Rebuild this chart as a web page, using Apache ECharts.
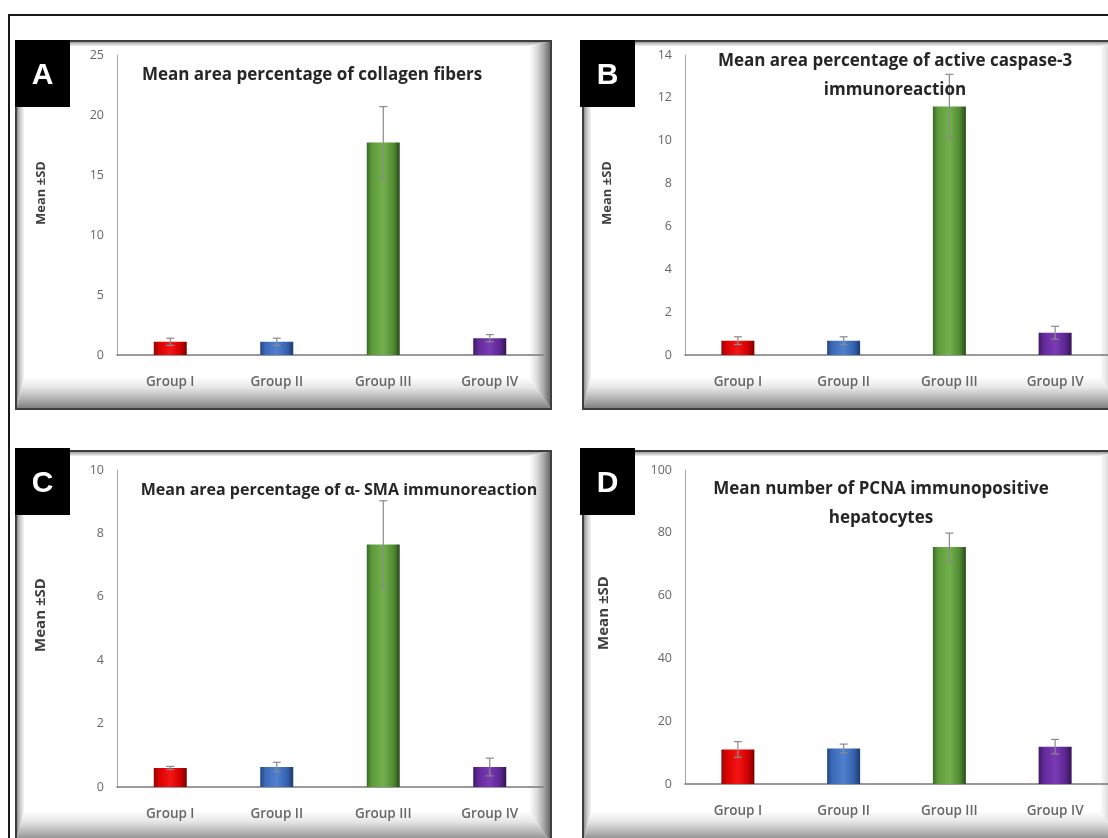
<!DOCTYPE html>
<html>
<head>
<meta charset="utf-8">
<script src="https://cdn.jsdelivr.net/npm/echarts@6/dist/echarts.min.js"></script>
<style>
html,body{margin:0;padding:0;background:#fff;}
#chart{width:1108px;height:838px;}
</style>
</head>
<body>
<div id="chart"></div>
<script>
// ---- data ----
const categories = ['Group I', 'Group II', 'Group III', 'Group IV'];

const meansA = [1.1, 1.1, 17.7, 1.4];
const sdA    = [0.3, 0.3, 3.0, 0.3];
const meansB = [0.67, 0.67, 11.6, 1.04];
const sdB    = [0.18, 0.18, 1.5, 0.3];
const meansC = [0.6, 0.63, 7.65, 0.63];
const sdC    = [0.05, 0.15, 1.38, 0.28];
const meansD = [11.0, 11.3, 75.5, 11.9];
const sdD    = [2.5, 1.4, 4.4, 2.3];

const titleA = 'Mean area percentage of collagen fibers';
const titleB = 'Mean area percentage of active caspase-3\nimmunoreaction';
const titleC = 'Mean area percentage of α- SMA immunoreaction';
const titleD = 'Mean number of PCNA immunopositive\nhepatocytes';
const yName = 'Mean ±SD';
const panelLetters = ['A', 'B', 'C', 'D'];

const yMaxA = 25, yStepA = 5;
const yMaxB = 14, yStepB = 2;
const yMaxC = 10, yStepC = 2;
const yMaxD = 100, yStepD = 20;

// ---- styling ----
const barGrad = [
  ['#8c0a0a', '#d80000', '#f51515', '#cc0000', '#7a0000'],
  ['#24467e', '#3b69b8', '#4f80cf', '#3461ad', '#1d3a6c'],
  ['#3b6a25', '#5c9a3b', '#73b04d', '#4f8a31', '#27491a'],
  ['#3c1a62', '#64299a', '#7a3bb5', '#5b2590', '#33154f']
];
function grad(c) {
  return {type: 'linear', x: 0, y: 0, x2: 1, y2: 0, colorStops: [
    {offset: 0, color: c[0]}, {offset: 0.15, color: c[1]},
    {offset: 0.5, color: c[2]}, {offset: 0.82, color: c[3]}, {offset: 1, color: c[4]}]};
}

const grids = [
  {left: 117, top: 55, width: 426, height: 300},
  {left: 685, top: 55, width: 430, height: 300},
  {left: 117, top: 470, width: 426, height: 317},
  {left: 685, top: 470, width: 430, height: 314}
];
const ymax = [yMaxA, yMaxB, yMaxC, yMaxD];
const ystep = [yStepA, yStepB, yStepC, yStepD];
const means = [meansA, meansB, meansC, meansD];
const sds = [sdA, sdB, sdC, sdD];

const xAxis = [], yAxis = [], series = [];
for (let i = 0; i < 4; i++) {
  xAxis.push({
    type: 'category', gridIndex: i, data: categories, z: 10,
    axisLine: {lineStyle: {color: '#7a7a7a', width: 1.5}},
    axisTick: {show: false},
    axisLabel: {color: '#666666', fontFamily: 'Open Sans', fontWeight: 600, fontSize: 13.5, margin: 20}
  });
  yAxis.push({
    type: 'value', gridIndex: i, min: 0, max: ymax[i], interval: ystep[i], z: 10,
    axisLine: {show: true, lineStyle: {color: '#a6a6a6', width: 1}},
    axisTick: {show: false},
    splitLine: {show: false},
    axisLabel: {color: '#666666', fontFamily: 'Open Sans', fontSize: 12.5, margin: 13}
  });
  series.push({
    type: 'bar', xAxisIndex: i, yAxisIndex: i, barWidth: 33, z: 10,
    data: means[i].map((v, k) => ({value: v, itemStyle: {color: grad(barGrad[k])}}))
  });
  series.push({
    type: 'custom', xAxisIndex: i, yAxisIndex: i, z: 12,
    data: means[i].map((v, k) => [k, v, sds[i][k]]),
    renderItem: function (params, api) {
      const k = api.value(0), m = api.value(1), s = api.value(2);
      const p1 = api.coord([k, m + s]);
      const p2 = api.coord([k, m - s]);
      const st = {stroke: '#8a8a8a', lineWidth: 1.2};
      return {type: 'group', children: [
        {type: 'line', shape: {x1: p1[0], y1: p1[1], x2: p2[0], y2: p2[1]}, style: st},
        {type: 'line', shape: {x1: p1[0] - 4, y1: p1[1], x2: p1[0] + 4, y2: p1[1]}, style: st},
        {type: 'line', shape: {x1: p2[0] - 4, y1: p2[1], x2: p2[0] + 4, y2: p2[1]}, style: st}
      ]};
    }
  });
}

// ---- frames ----
function frame(x0, y0, x1, y1) {
  const t = 5, l = 8, r = 22, b = 32;
  const lin = (vert, stops) => ({type: 'linear', x: 0, y: 0, x2: vert ? 0 : 1, y2: vert ? 1 : 0,
    colorStops: stops.map((c, i) => ({offset: i / (stops.length - 1), color: c}))});
  return [
    {type: 'polygon', z: 1, shape: {points: [[x0, y0], [x1, y0], [x1 - r, y0 + t], [x0 + l, y0 + t]]},
      style: {fill: lin(true, ['#7d7d7d', '#c0c0c0', '#f0f0f0'])}},
    {type: 'polygon', z: 1, shape: {points: [[x0, y0], [x0 + l, y0 + t], [x0 + l, y1 - b], [x0, y1]]},
      style: {fill: lin(false, ['#808080', '#c8c8c8', '#f5f5f5'])}},
    {type: 'polygon', z: 1, shape: {points: [[x1, y0], [x1, y1], [x1 - r, y1 - b], [x1 - r, y0 + t]]},
      style: {fill: lin(false, ['#ffffff', '#e0e0e0', '#a8a8a8', '#606060'])}},
    {type: 'polygon', z: 1, shape: {points: [[x0, y1], [x0 + l, y1 - b], [x1 - r, y1 - b], [x1, y1]]},
      style: {fill: lin(true, ['#ffffff', '#e6e6e6', '#b4b4b4', '#7c7c7c'])}},
    {type: 'rect', z: 2, shape: {x: x0, y: y0, width: x1 - x0, height: y1 - y0},
      style: {fill: 'none', stroke: '#3f3f3f', lineWidth: 2}}
  ];
}
function labelBox(x, y, w, h, letter) {
  return [
    {type: 'rect', z: 50, shape: {x: x, y: y, width: w, height: h}, style: {fill: '#000'}},
    {type: 'text', z: 51, x: x + w / 2, y: y + h / 2 + 2,
      style: {text: letter, fill: '#fff', font: 'bold 30px "Liberation Sans", Arial, sans-serif',
        align: 'center', verticalAlign: 'middle', textAlign: 'center', textVerticalAlign: 'middle'}}
  ];
}
function txt(x, y, text, font, fill, extra) {
  return Object.assign({type: 'text', z: 50, x: x, y: y,
    style: {text: text, font: font, fill: fill, align: 'center', verticalAlign: 'middle',
      textAlign: 'center', textVerticalAlign: 'middle', lineHeight: 29}}, extra || {});
}

const titleFont = 'bold 17px "Open Sans", sans-serif';
const titleFontC = 'bold 16px "Open Sans", sans-serif';
const yFontTop = 'bold 13px "Open Sans", sans-serif';
const yFontBot = 'bold 15px "Open Sans", sans-serif';
const graphic = [].concat(
  [{type: 'line', z: 1, shape: {x1: 8, y1: 15, x2: 1108, y2: 15}, style: {stroke: '#1a1a1a', lineWidth: 2}},
   {type: 'line', z: 1, shape: {x1: 9, y1: 15, x2: 9, y2: 838}, style: {stroke: '#1a1a1a', lineWidth: 2}}],
  frame(16, 41, 551, 409),
  frame(583, 41, 1122, 409),
  frame(16, 451, 551, 843),
  frame(583, 451, 1122, 843),
  labelBox(15, 40, 55, 67, panelLetters[0]),
  labelBox(580, 40, 55, 67, panelLetters[1]),
  labelBox(15, 448, 55, 67, panelLetters[2]),
  labelBox(580, 448, 55, 67, panelLetters[3]),
  [
    txt(312, 75, titleA, titleFont, '#262626'),
    txt(895, 76, titleB, titleFont, '#262626'),
    txt(339, 490, titleC, titleFontC, '#262626'),
    txt(881, 504, titleD, titleFont, '#262626'),
    txt(41, 193, yName, yFontTop, '#404040', {rotation: Math.PI / 2}),
    txt(607, 193, yName, yFontTop, '#404040', {rotation: Math.PI / 2}),
    txt(41, 615, yName, yFontBot, '#404040', {rotation: Math.PI / 2}),
    txt(604, 613, yName, yFontBot, '#404040', {rotation: Math.PI / 2})
  ]
);

const chart = echarts.init(document.getElementById('chart'), null, {renderer: 'canvas'});
chart.setOption({
  backgroundColor: '#ffffff',
  animation: false,
  grid: grids,
  xAxis: xAxis,
  yAxis: yAxis,
  series: series,
  graphic: {elements: graphic}
});
</script>
</body>
</html>
